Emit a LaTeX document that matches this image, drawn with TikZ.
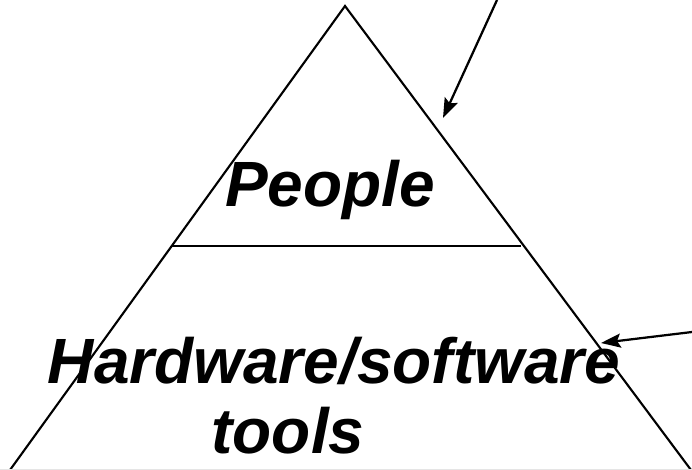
\documentclass[tikz,border=0pt]{standalone}
\usepackage{fontspec}
\setmainfont{Liberation Sans}
\usetikzlibrary{arrows.meta}

\begin{document}
\begin{tikzpicture}[x=0.25mm,y=-0.25mm,
    layer/.style={font=\fontsize{45.5}{54}\selectfont\bfseries\itshape, inner sep=0pt, anchor=base},
    pointer/.style={line width=1.6pt,-{Stealth[length=14pt,width=10pt,inset=2.5pt]}}]
  \useasboundingbox (0,0) rectangle (692,470);
  \clip (0,0) rectangle (692,470);
  % pyramid outline and the split between the two layers
  \coordinate (top) at (345,6);
  \coordinate (left) at (10,470);
  \coordinate (right) at (691,470);
  \draw[line width=1.5pt] (left) -- (top) -- (right);
  \coordinate (splitL) at (172,246);
  \coordinate (splitR) at (521,246);
  \draw[line width=1.5pt] (splitL) -- (splitR);
  \draw[gray!20, line width=0.7pt] (0,469.5) -- (692,469.5);
  \node[layer] (people) at (330,207) {People};
  \node[layer] (hw) at (334,383) {Hardware/software};
  \node[layer] (tools) at (288,453) {tools};
  % pointers coming in from the margin
  \coordinate (upper) at (497,0);
  \coordinate (upperTip) at (443,118);
  \draw[pointer] (upper) -- (upperTip);
  \coordinate (lower) at (692,332);
  \coordinate (lowerTip) at (601,343);
  \draw[pointer] (lower) -- (lowerTip);
\end{tikzpicture}
\end{document}
